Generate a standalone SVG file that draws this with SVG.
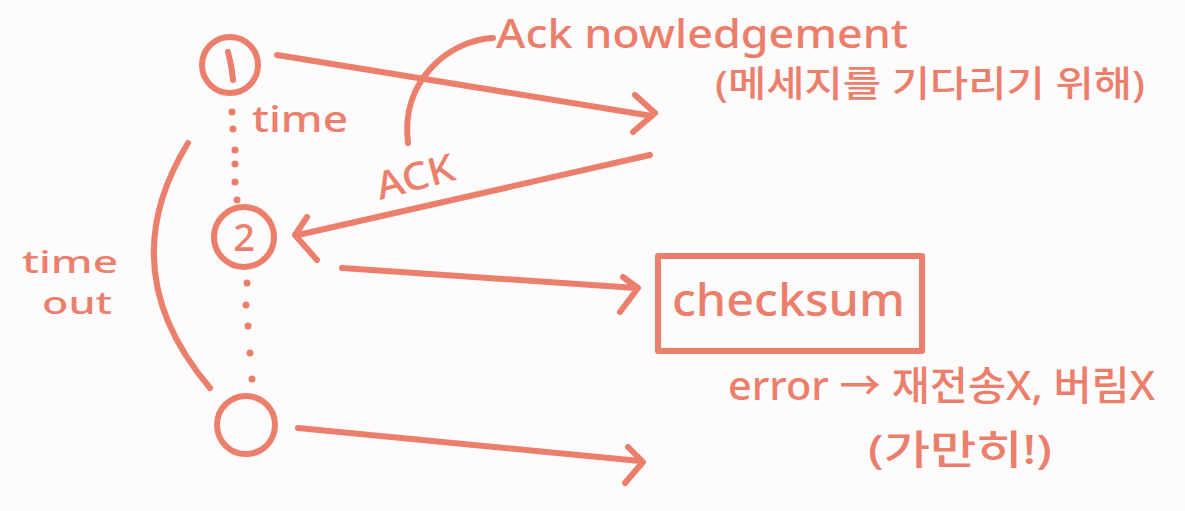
<svg xmlns="http://www.w3.org/2000/svg" width="1185" height="511" viewBox="0 0 1185 511">
<style>
.s{fill:none;stroke:#EB7F6C;stroke-width:6;stroke-linecap:round;stroke-linejoin:round}
.t{fill:#EB7F6C;font-family:"Noto Sans",sans-serif;font-weight:500}
.k{fill:#EB7F6C;font-family:"Noto Sans","Noto Sans CJK KR",sans-serif;font-weight:500}
.d{fill:#EB7F6C}
</style>
<rect width="1185" height="511" fill="#FDFBFB"/>
<g id="node1">
<circle class="s" cx="230" cy="65" r="28"/>
<path class="s" d="M228,52 Q232,66 233,80"/>
</g>
<g id="node2">
<circle class="s" cx="244" cy="237" r="30"/>
<text class="t" x="244" y="251" font-size="38" font-weight="700" text-anchor="middle">2</text>
</g>
<g id="node3">
<circle class="s" cx="246" cy="425" r="29"/>
</g>
<g id="checksum">
<rect class="s" x="658" y="256" width="264" height="95"/>
<text class="t" x="672" y="316" font-size="46" textLength="233" lengthAdjust="spacingAndGlyphs">checksum</text>
</g>
<g id="connectors">
<g class="d">
<circle cx="232" cy="112" r="3.5"/><circle cx="233" cy="129" r="3.5"/><circle cx="235" cy="150" r="3.5"/><circle cx="235" cy="164" r="3.5"/><circle cx="235" cy="182" r="3.5"/><circle cx="237" cy="200" r="3.5"/>
<circle cx="247" cy="283" r="3.5"/><circle cx="246" cy="305" r="3.5"/><circle cx="248" cy="326" r="3.5"/><circle cx="250" cy="353" r="3.5"/><circle cx="252" cy="379" r="3.5"/>
</g>
<path class="s" d="M277,55 L652,116 M635,95 L655,113 L633,132"/>
<path class="s" d="M650,155 L298,235 M307,217 L295,235 L317,260"/>
<path class="s" d="M342,268 L636,288 M623,277 L638,288 L620,312"/>
<path class="s" d="M298,428 L640,461 M628,447 L643,462 L625,483"/>
<path class="s" d="M188,143 Q110,270 210,388"/>
<path class="s" d="M493,38 C450,40 400,80 408,143"/>
</g>
<g id="labels">
<text class="t" x="496" y="48" font-size="40" textLength="412" lengthAdjust="spacingAndGlyphs">Ack nowledgement</text>
<text class="k" x="715" y="97" font-size="36" textLength="430" lengthAdjust="spacingAndGlyphs">(메세지를 기다리기 위해)</text>
<text class="t" x="252" y="132" font-size="36" textLength="96" lengthAdjust="spacingAndGlyphs">time</text>
<text class="t" x="22" y="273" font-size="30" textLength="96" lengthAdjust="spacingAndGlyphs">time</text>
<text class="t" x="42" y="314" font-size="30" textLength="70" lengthAdjust="spacingAndGlyphs">out</text>
<text class="t" x="380" y="200" font-size="38" textLength="80" lengthAdjust="spacingAndGlyphs" transform="rotate(-15 380 200)">ACK</text>
<text class="k" x="728" y="400" font-size="40" textLength="427" lengthAdjust="spacingAndGlyphs">error → 재전송X, 버림X</text>
<text class="k" x="868" y="464" font-size="40" textLength="184" lengthAdjust="spacingAndGlyphs">(가만히!)</text>
</g>
</svg>
